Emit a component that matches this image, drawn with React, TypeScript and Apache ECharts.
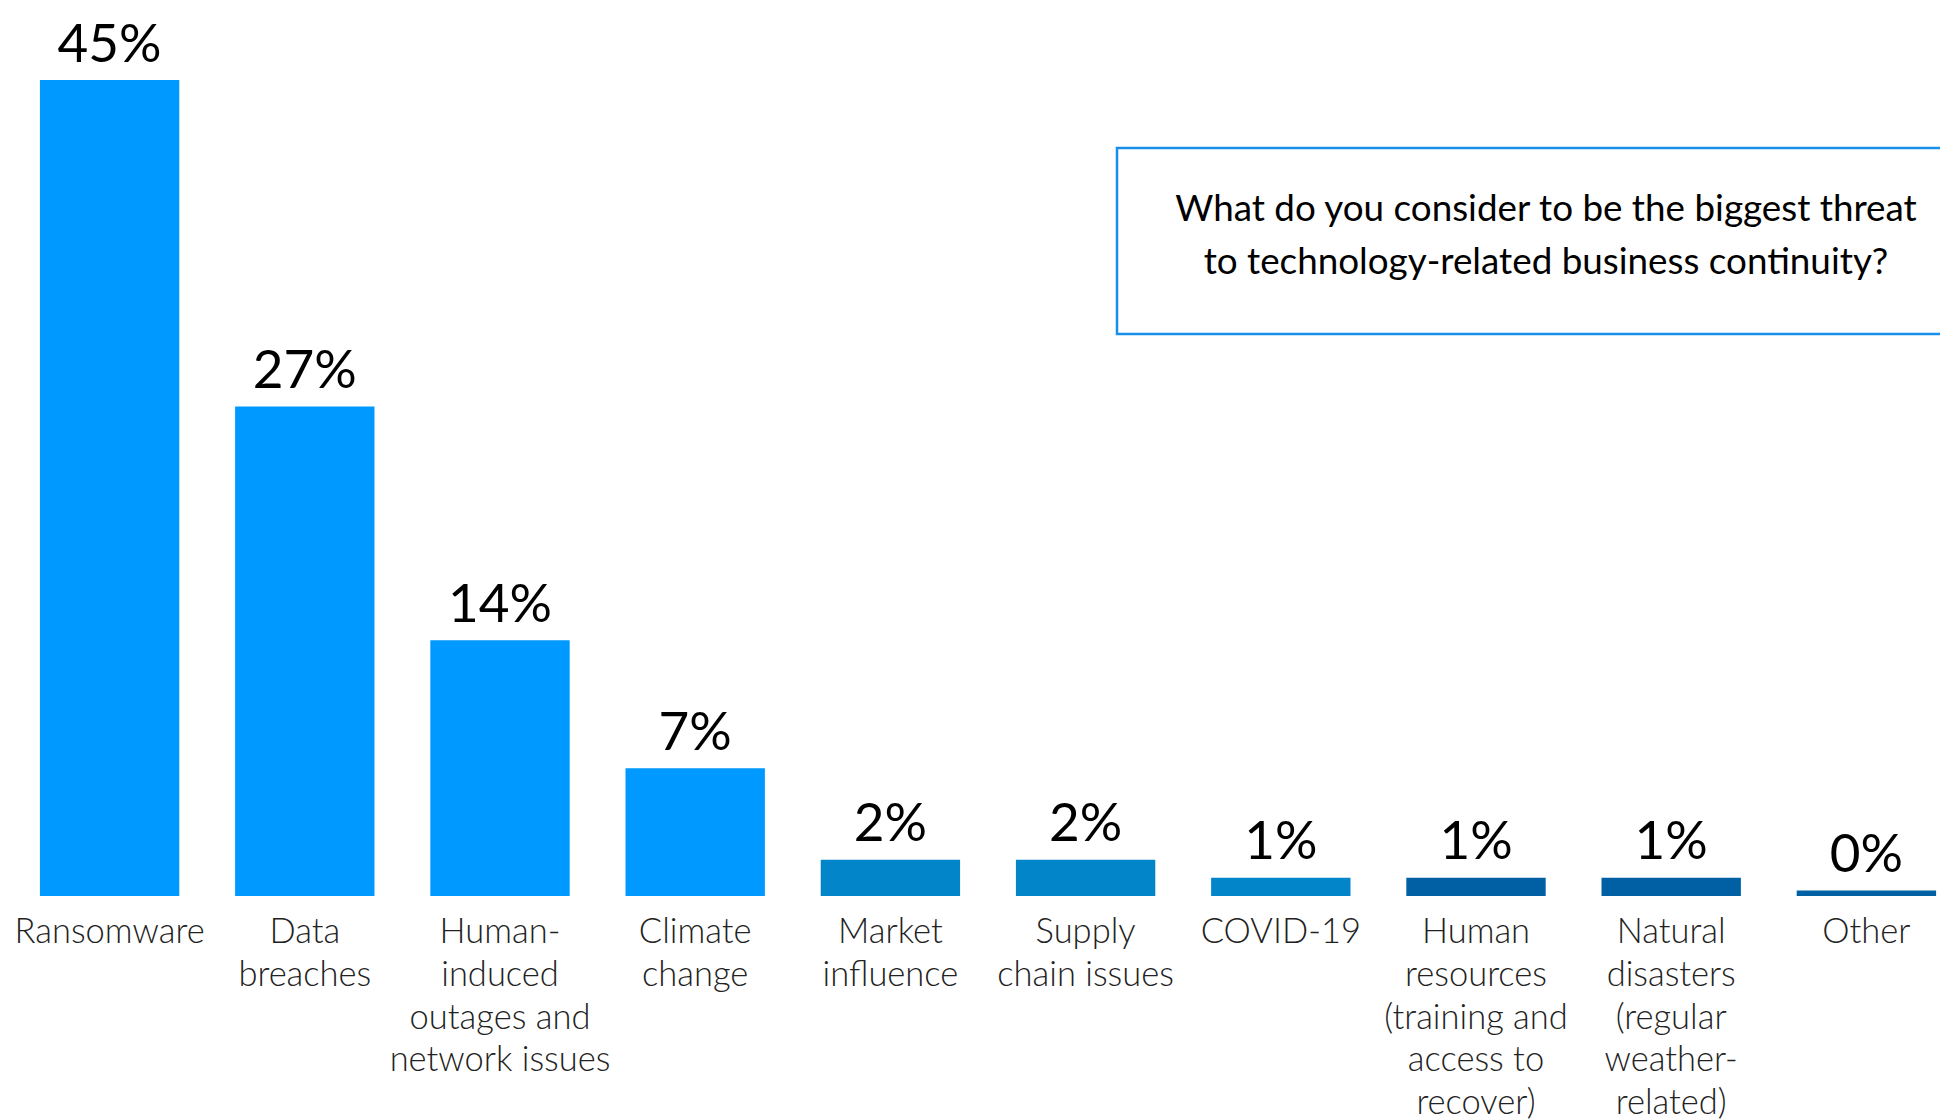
import React, { useEffect, useRef } from "react";
import * as echarts from "echarts";

const categories = [
  "Ransomware",
  "Data\nbreaches",
  "Human-\ninduced\noutages and\nnetwork issues",
  "Climate\nchange",
  "Market\ninfluence",
  "Supply\nchain issues",
  "COVID-19",
  "Human\nresources\n(training and\naccess to\nrecover)",
  "Natural\ndisasters\n(regular\nweather-\nrelated)",
  "Other",
];
const values = [45, 27, 14.1, 7.05, 2, 2, 1, 1, 1, 0.3];
const valueLabels = ["45%", "27%", "14%", "7%", "2%", "2%", "1%", "1%", "1%", "0%"];
const barColors = [
  "#0099FF", "#0099FF", "#0099FF", "#0099FF",
  "#0386C9", "#0386C9", "#0386C9",
  "#0060A3", "#0060A3", "#0060A3",
];
const titleLines = [
  "What do you consider to be the biggest threat",
  "to technology-related business continuity?",
];

export default function App() {
  const ref = useRef<HTMLDivElement>(null);
  useEffect(() => {
    if (!ref.current) return;
    const chart = echarts.init(ref.current, null, { renderer: "svg" });
    chart.setOption({
      animation: false,
      backgroundColor: "#ffffff",
      grid: {
        left: 12,
        right: -24,
        top: 80,
        bottom: 223,
        containLabel: false,
        outerBoundsMode: "none",
      },
      xAxis: {
        type: "category",
        data: categories,
        axisLine: { show: false },
        axisTick: { show: false },
        axisLabel: {
          interval: 0,
          margin: 12.5,
          fontFamily: "Lato",
          fontWeight: 300,
          fontSize: 34.5,
          lineHeight: 42.7,
          color: "#222222",
          align: "center",
        },
      },
      yAxis: {
        type: "value",
        min: 0,
        max: 45,
        show: false,
        splitLine: { show: false },
      },
      series: [
        {
          type: "bar",
          barCategoryGap: "28.6%",
          data: values.map((v, i) => ({
            value: v,
            itemStyle: { color: barColors[i] },
          })),
          label: {
            show: true,
            position: "top",
            distance: 12.5,
            fontFamily: "Lato",
            fontWeight: 400,
            fontSize: 53,
            color: "#000000",
            formatter: (p: any) => valueLabels[p.dataIndex],
          },
        },
      ],
      graphic: [
        {
          type: "rect",
          shape: { x: 1117, y: 148, width: 900, height: 186 },
          style: { fill: "none", stroke: "#1A8FEA", lineWidth: 2.5 },
          silent: true,
        },
        {
          type: "text",
          x: 1546,
          y: 233.5,
          style: {
            text: titleLines.join("\n"),
            fontFamily: "Lato",
            fontSize: 36.8,
            lineHeight: 53,
            fill: "#000000",
            align: "center",
            verticalAlign: "middle",
          },
          silent: true,
        },
      ],
    });
    return () => chart.dispose();
  }, []);
  return (
    <div
      ref={ref}
      style={{ position: "fixed", left: 0, top: 0, width: 1940, height: 1119 }}
    />
  );
}
